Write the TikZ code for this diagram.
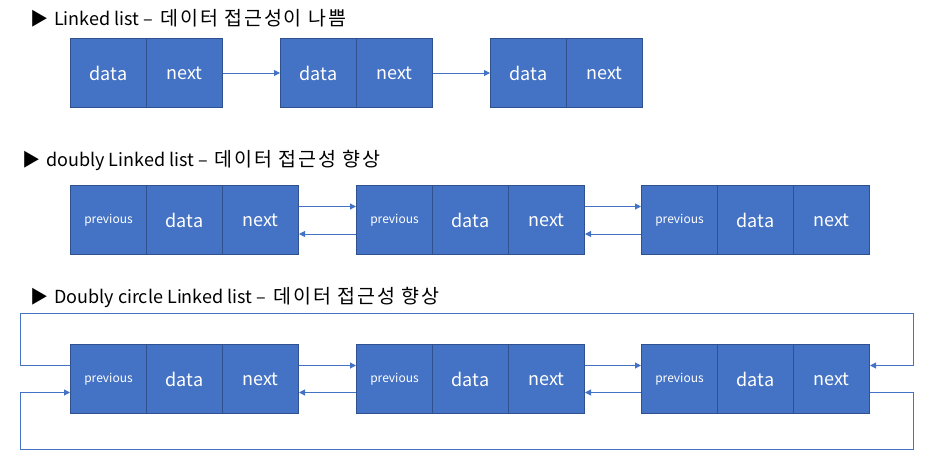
\documentclass[tikz,border=0pt]{standalone}
\usepackage{fontspec}
\setmainfont{Noto Sans CJK KR}
\newfontfamily\kr[LetterSpace=10]{Noto Sans CJK KR}
\usetikzlibrary{arrows.meta}
\definecolor{cellfill}{HTML}{4472C4}
\definecolor{celldraw}{HTML}{2F528F}
\definecolor{linkcol}{HTML}{4472C4}
\newcommand{\krtext}[1]{\hspace{3pt}{\kr\fontsize{19.5}{21}\selectfont #1}}
\tikzset{
  cell/.style={rectangle, draw=celldraw, fill=cellfill, line width=1pt, text=white,
    minimum width=76pt, minimum height=69pt, anchor=north west, inner sep=0pt,
    font=\fontsize{18}{20}\selectfont},
  prevcell/.style={cell, font=\fontsize{12}{14}\selectfont},
  link/.style={draw=linkcol, line width=1pt, -{Triangle[length=6pt,width=6pt]}},
  title/.style={anchor=west, inner sep=0pt, font=\fontsize{18}{21}\selectfont}
}
\begin{document}
\begin{tikzpicture}[x=1pt,y=-1pt]
\useasboundingbox (0,0) rectangle (938,472);
% titles
\node[title] (t1) at (30,18) {▶\hspace{6pt}Linked list – \krtext{데이터 접근성이 나쁨}};
\node[title] (t2) at (22,160) {▶\hspace{6pt}doubly Linked list – \krtext{데이터 접근성 향상}};
\node[title] (t3) at (30,297) {▶\hspace{6pt}Doubly circle Linked list – \krtext{데이터 접근성 향상}};
% row 1
\node[cell] (a1d) at (70,38) {data};
\node[cell] (a1n) at (146,38) {next};
\node[cell] (a2d) at (280,38) {data};
\node[cell] (a2n) at (356,38) {next};
\node[cell] (a3d) at (490,38) {data};
\node[cell] (a3n) at (566,38) {next};
\draw[link] (a1n.east) -- (a2d.west);
\draw[link] (a2n.east) -- (a3d.west);
% row 2
\node[prevcell] (b1p) at (70,185) {previous};
\node[cell] (b1d) at (146,185) {data};
\node[cell] (b1n) at (222,185) {next};
\node[prevcell] (b2p) at (356,185) {previous};
\node[cell] (b2d) at (432,185) {data};
\node[cell] (b2n) at (508,185) {next};
\node[prevcell] (b3p) at (641,185) {previous};
\node[cell] (b3d) at (717,185) {data};
\node[cell] (b3n) at (793,185) {next};
\draw[link] ([yshift=13.5pt]b1n.east) -- ([yshift=13.5pt]b2p.west);
\draw[link] ([yshift=-14pt]b2p.west) -- ([yshift=-14pt]b1n.east);
\draw[link] ([yshift=13.5pt]b2n.east) -- ([yshift=13.5pt]b3p.west);
\draw[link] ([yshift=-14pt]b3p.west) -- ([yshift=-14pt]b2n.east);
% row 3
\node[prevcell] (c1p) at (70,344) {previous};
\node[cell] (c1d) at (146,344) {data};
\node[cell] (c1n) at (222,344) {next};
\node[prevcell] (c2p) at (356,344) {previous};
\node[cell] (c2d) at (432,344) {data};
\node[cell] (c2n) at (508,344) {next};
\node[prevcell] (c3p) at (641,344) {previous};
\node[cell] (c3d) at (717,344) {data};
\node[cell] (c3n) at (793,344) {next};
\draw[link] ([yshift=13.5pt]c1n.east) -- ([yshift=13.5pt]c2p.west);
\draw[link] ([yshift=-13.5pt]c2p.west) -- ([yshift=-13.5pt]c1n.east);
\draw[link] ([yshift=13.5pt]c2n.east) -- ([yshift=13.5pt]c3p.west);
\draw[link] ([yshift=-13.5pt]c3p.west) -- ([yshift=-13.5pt]c2n.east);
\coordinate (LT) at (20,313);
\coordinate (RT) at (913,313);
\coordinate (LB) at (20,449);
\coordinate (RB) at (913,449);
\draw[link] ([yshift=13.5pt]c1p.west) -| (LT) -- (RT) |- ([yshift=13.5pt]c3n.east);
\draw[link] ([yshift=-13.5pt]c3n.east) -| (RB) -- (LB) |- ([yshift=-13.5pt]c1p.west);
\end{tikzpicture}
\end{document}
